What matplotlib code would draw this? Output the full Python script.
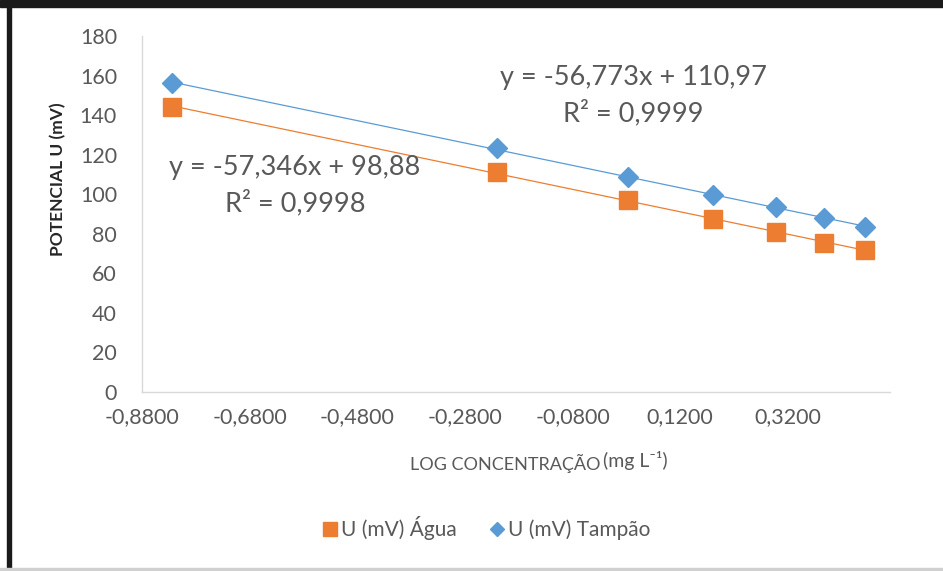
import numpy as np
import matplotlib
matplotlib.use('Agg')
import matplotlib.pyplot as plt
from matplotlib.lines import Line2D
from matplotlib.patches import Rectangle

plt.rcParams['font.family'] = ['Lato', 'DejaVu Sans']

# dados
log_conc = [-0.824, -0.220, 0.024, 0.182, 0.298, 0.387, 0.463]
u_agua = [144.1, 111.2, 97.1, 87.5, 80.9, 75.3, 71.8]
u_tampao = [156.2, 123.4, 108.7, 99.6, 93.5, 88.0, 83.4]

eq_agua = ['y = -57,346x + 98,88', 'R² = 0,9998']
eq_tampao = ['y = -56,773x + 110,97', 'R² = 0,9999']

x_ticks = [-0.88, -0.68, -0.48, -0.28, -0.08, 0.12, 0.32]
y_ticks = [0, 20, 40, 60, 80, 100, 120, 140, 160, 180]

cor_agua = '#ED7D31'
cor_tampao = '#5B9BD5'
cinza = '#595959'

W, H = 943, 571
fig = plt.figure(figsize=(W / 100, H / 100), dpi=100)
ax = fig.add_axes([142 / W, 1 - 392 / H, 748 / W, 356 / H])

x = np.array(log_conc)
xs = np.linspace(x.min(), x.max(), 50)

# linhas de tendencia
for yy, cor in [(u_agua, cor_agua), (u_tampao, cor_tampao)]:
    a, b = np.polyfit(x, yy, 1)
    ax.plot(xs, a * xs + b, color=cor, lw=0.9, zorder=2)

ax.plot(x, u_agua, 's', color=cor_agua, ms=13.5, mec=cor_agua, zorder=3)
ax.plot(x, u_tampao, 'D', color=cor_tampao, ms=10, mec=cor_tampao, zorder=4)

ax.set_xlim(-0.88, 0.51)
ax.set_ylim(0, 180)
ax.set_xticks(x_ticks)
ax.set_xticklabels([f'{t:.4f}'.replace('.', ',') for t in x_ticks])
ax.set_yticks(y_ticks)
ax.tick_params(axis='both', length=0, labelsize=15.5, labelcolor=cinza)
ax.tick_params(axis='x', pad=11)
ax.tick_params(axis='y', pad=18)
for s in ['top', 'right']:
    ax.spines[s].set_visible(False)
for s in ['left', 'bottom']:
    ax.spines[s].set_color('#D9D9D9')
    ax.spines[s].set_linewidth(1)

# equacoes
ax.text(295 / W, 1 - 167 / H, eq_agua[0], transform=fig.transFigure,
        ha='center', va='center', fontsize=19.5, color=cinza)
ax.text(295 / W, 1 - 203 / H, eq_agua[1], transform=fig.transFigure,
        ha='center', va='center', fontsize=19.5, color=cinza)
ax.text(633 / W, 1 - 78 / H, eq_tampao[0], transform=fig.transFigure,
        ha='center', va='center', fontsize=19.5, color=cinza)
ax.text(633 / W, 1 - 113 / H, eq_tampao[1], transform=fig.transFigure,
        ha='center', va='center', fontsize=19.5, color=cinza)

# rotulos dos eixos
fig.text(58 / W, 1 - 179 / H, 'POTENCIAL U (mV)', rotation=90, ha='center',
         va='center', fontsize=12.5, color='#262626', fontweight='bold')
fig.text(600 / W, 1 - 463 / H, 'LOG CONCENTRAÇÃO', ha='right', va='center',
         fontsize=13, color=cinza)
fig.text(603 / W, 1 - 461 / H, '(mg L⁻¹)', ha='left', va='center',
         fontsize=14, color=cinza)

# legenda
h1 = Line2D([], [], marker='s', ls='none', color=cor_agua, ms=10.5)
h2 = Line2D([], [], marker='D', ls='none', color=cor_tampao, ms=7.5)
fig.legend([h1, h2], ['U (mV) Água', 'U (mV) Tampão'], loc='center',
           bbox_to_anchor=(486 / W, 1 - 528 / H), ncol=2, frameon=False,
           fontsize=15, labelcolor=cinza, handletextpad=0.15, columnspacing=1.5,
           handlelength=0.8)

# moldura da imagem
fig.patches.append(Rectangle((0, 1 - 7 / H), 1, 7 / H, transform=fig.transFigure,
                             color='#1a1a1a', zorder=10))
fig.patches.append(Rectangle((7 / W, 3 / H), 4 / W, 1, transform=fig.transFigure,
                             color='#1a1a1a', zorder=10))
fig.patches.append(Rectangle((0, 0), 1, 3 / H, transform=fig.transFigure,
                             color='#D0D0D0', zorder=10))

fig.savefig('out.png', dpi=100)
